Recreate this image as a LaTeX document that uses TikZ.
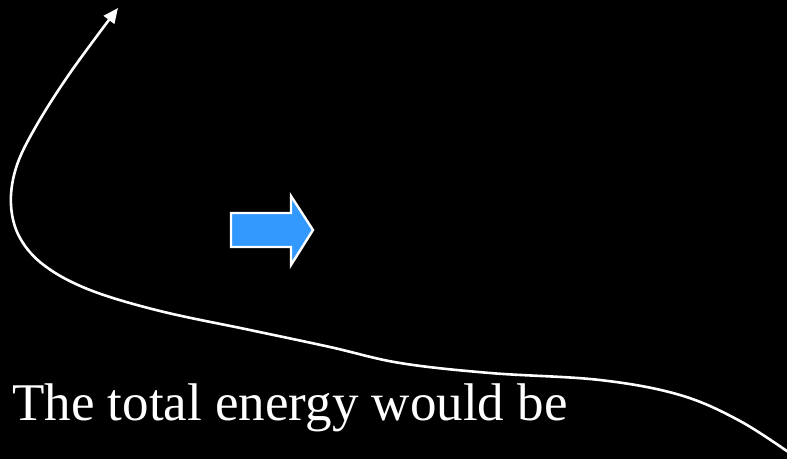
\documentclass[tikz,border=0pt]{standalone}
\usepackage{fontspec}
\setmainfont{Liberation Serif}
\usetikzlibrary{arrows.meta}
\definecolor{arrowblue}{HTML}{3399FF}
\tikzset{
  curveline/.style={white, line width=2.6pt, -{Triangle[length=15pt,width=13pt]}},
  blockarrow/.style={fill=arrowblue, draw=white, line width=2.4pt, line join=miter},
  bigtext/.style={text=white, font=\fontsize{53}{60}\selectfont, inner sep=0pt, anchor=base west}
}
\begin{document}
\begin{tikzpicture}[x=1pt,y=-1pt]
\fill[black] (0,0) rectangle (787,459);
\useasboundingbox (0,0) rectangle (787,459);
\draw[curveline] plot[smooth, tension=0.6] coordinates {
(794,456) (740,421) (680,395) (600,380) (490,373) (400,363) (330,347) (250,330) (160,311) (90,290) (45,266) (20,238) (11,205) (16,168) (35,128) (70,73) (118,8)};
\draw[blockarrow] (231,213) -- (291,213) -- (291,196) -- (313,230) -- (291,265) -- (291,247) -- (231,247) -- cycle;
\node[bigtext] (label) at (12,420) {The total energy would be};
\end{tikzpicture}
\end{document}
